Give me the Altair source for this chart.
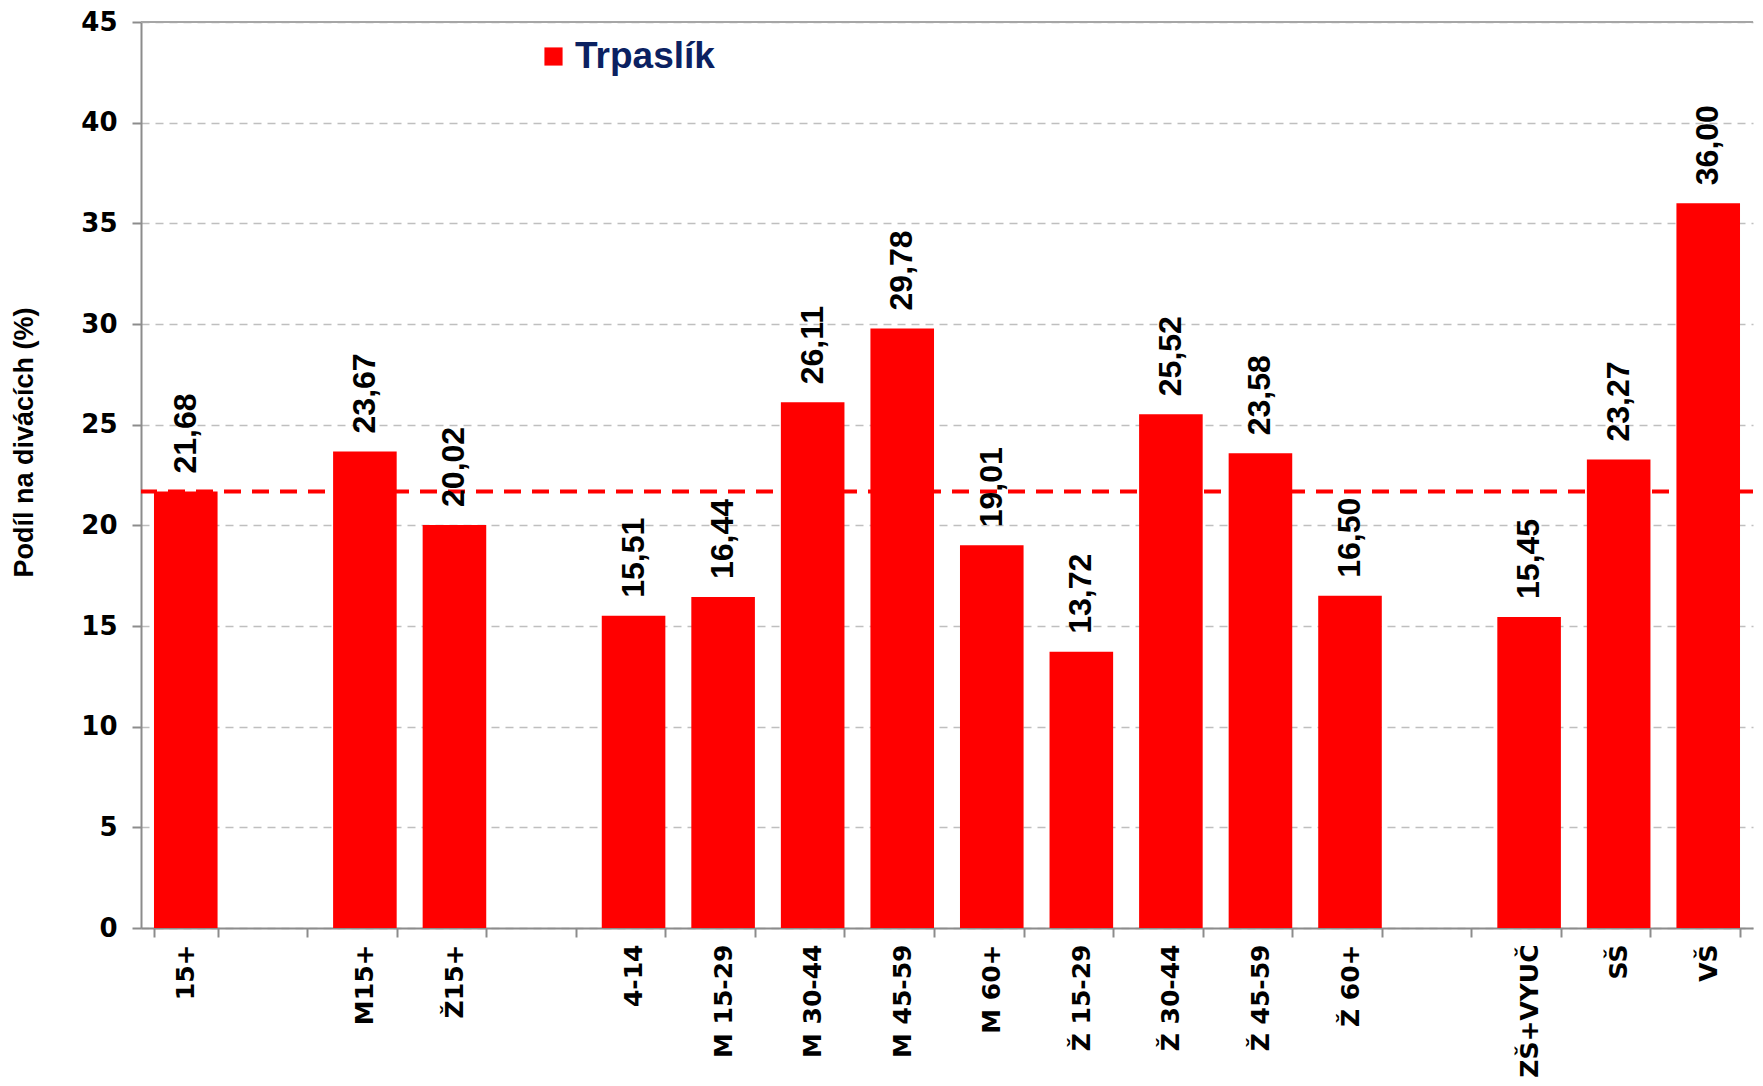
import altair as alt
import pandas as pd

# ---- data ----
categories = ["15+", " ", "M15+", "Ž15+", "  ", "4-14", "M 15-29", "M 30-44",
              "M 45-59", "M 60+", "Ž 15-29", "Ž 30-44", "Ž 45-59", "Ž 60+",
              "   ", "ZŠ+VYUČ", "SŠ", "VŠ"]
bar_categories = ["15+", "M15+", "Ž15+", "4-14", "M 15-29", "M 30-44",
                  "M 45-59", "M 60+", "Ž 15-29", "Ž 30-44", "Ž 45-59", "Ž 60+",
                  "ZŠ+VYUČ", "SŠ", "VŠ"]
values = [21.68, 23.67, 20.02, 15.51, 16.44, 26.11, 29.78, 19.01, 13.72,
          25.52, 23.58, 16.50, 15.45, 23.27, 36.00]
series_name = "Trpaslík"
reference_value = [21.68]
top_value = [45]
y_ticks = [0, 5, 10, 15, 20, 25, 30, 35, 40, 45]
y_title = "Podíl na divácích (%)"

df = pd.DataFrame({"cat": bar_categories, "value": values, "series": series_name})
ref_df = pd.DataFrame({"value": reference_value})
top_df = pd.DataFrame({"value": top_value})

AXIS_GRAY = "#8C8C8C"

x_enc = alt.X(
    "cat:N",
    sort=categories,
    scale=alt.Scale(domain=categories, paddingInner=0.29, paddingOuter=0.145),
    axis=alt.Axis(
        title=None,
        labelAngle=270,
        labelFont="DejaVu Sans",
        labelFontWeight="bold",
        labelFontSize=25,
        labelColor="#000000",
        labelPadding=7,
        labelLimit=400,
        tickBand="extent",
        tickSize=9,
        tickWidth=2,
        tickColor=AXIS_GRAY,
        domainColor=AXIS_GRAY,
        domainWidth=2,
        grid=False,
    ),
)

y_scale = alt.Scale(domain=[0, 45], nice=False, zero=True)
y_axis = alt.Axis(
    title=y_title,
    titleFont="Liberation Sans",
    titleFontWeight="bold",
    titleFontSize=27,
    titleColor="#000000",
    titlePadding=42,
    titleY=420,
    values=y_ticks,
    labelFont="DejaVu Sans",
    labelFontWeight="bold",
    labelFontSize=26,
    labelColor="#000000",
    labelPadding=15,
    tickSize=9,
    tickWidth=2,
    tickColor=AXIS_GRAY,
    domainColor=AXIS_GRAY,
    domainWidth=2,
    grid=True,
    gridColor="#BFBFBF",
    gridWidth=1.5,
    gridDash=[8, 6],
)

bars = alt.Chart(df).mark_bar().encode(
    x=x_enc,
    y=alt.Y("value:Q", scale=y_scale, axis=y_axis),
    color=alt.Color(
        "series:N",
        scale=alt.Scale(domain=[series_name], range=["#FF0000"]),
        legend=alt.Legend(
            title=None,
            orient="none",
            legendX=394,
            legendY=16,
            symbolType="square",
            symbolSize=330,
            symbolStrokeWidth=0,
            labelFont="Liberation Sans",
            labelFontWeight="bold",
            labelFontSize=37,
            labelColor="#0B2161",
            labelOffset=3,
            padding=0,
        ),
    ),
)

labels = alt.Chart(df).transform_calculate(
    label="replace(format(datum.value, '.2f'), '.', ',')"
).mark_text(
    angle=270,
    align="left",
    baseline="middle",
    dx=18,
    font="Liberation Sans",
    fontWeight="bold",
    fontSize=32,
    color="#000000",
).encode(
    x=x_enc,
    y=alt.Y("value:Q", scale=y_scale, axis=y_axis),
    text="label:N",
)

top_rule = alt.Chart(top_df).mark_rule(color="#A6A6A6", strokeWidth=2).encode(
    y=alt.Y("value:Q", scale=y_scale, axis=y_axis)
)

ref_rule = alt.Chart(ref_df).mark_rule(
    color="#FF0000", strokeWidth=4, strokeDash=[17, 11]
).encode(
    y=alt.Y("value:Q", scale=y_scale, axis=y_axis)
)

chart = alt.layer(top_rule, bars, ref_rule, labels).properties(
    width=1612,
    height=906,
    padding={"left": 2, "top": 1, "right": 0, "bottom": 0},
    background="#FFFFFF",
).configure_view(strokeWidth=0)

chart.save("out.html", embed_options={"renderer": "svg", "actions": False})
